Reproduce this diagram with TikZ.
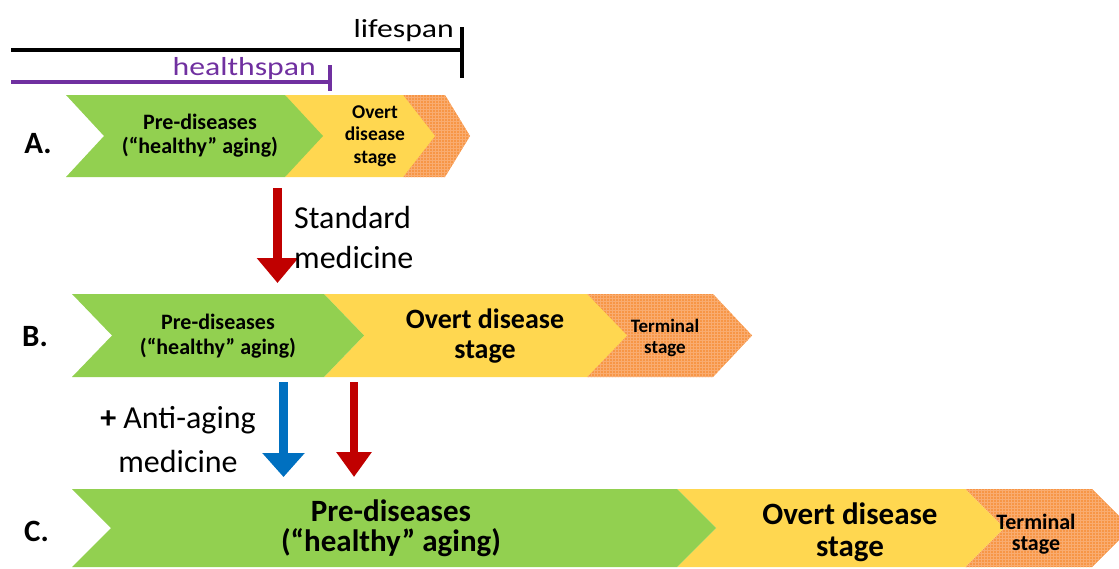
\documentclass[tikz,border=0pt]{standalone}
\usepackage{fontspec}
\setmainfont{Carlito}
\newfontfamily\widefont{Carlito}[FakeStretch=1.22]
\usetikzlibrary{arrows.meta,patterns}
\definecolor{grn}{HTML}{92D050}
\definecolor{ylw}{HTML}{FFD750}
\definecolor{orng}{HTML}{F79646}
\definecolor{orngline}{HTML}{F9AC70}
\definecolor{darkred}{HTML}{C00000}
\definecolor{blu}{HTML}{0070C0}
\definecolor{purp}{HTML}{7030A0}

\newcommand{\setfs}[2]{\fontsize{#1}{#2}\selectfont}
% style, left x, top-right x, top y, bottom y, tip depth
\newcommand{\chevron}[6]{%
  \path[#1] (#2,#4) -- (#3,#4) -- ({#3+#6},{(#4+#5)/2}) -- (#3,#5)
    -- (#2,#5) -- ({#2+#6},{(#4+#5)/2}) -- cycle;}

\tikzset{
  pre/.style={fill=grn},
  overt/.style={fill=ylw},
  terminal/.style={preaction={fill=orng}, pattern=grid, pattern color=orngline},
  stg/.style={align=center, inner sep=0pt},
  lbl/.style={inner sep=0pt, font=\setfs{31}{31}\bfseries},
  span/.style={line width=3.5pt},
  medarrow/.style={line width=9pt, -{Triangle[width=40pt,length=25pt]}},
}

\begin{document}
\begin{tikzpicture}[x=1pt,y=-1pt]
    \useasboundingbox (0,0) rectangle (1119,568);
    \clip (0,0) rectangle (1119,568);

    % lifespan / healthspan
    \draw[span] (11,50) -- (462,50);
    \draw[span] (462,27) -- (462,78);
    \node[inner sep=0pt, anchor=base east, font=\widefont\setfs{26}{26}] (lifespan) at (454,37) {lifespan};
    \draw[span, purp] (11,82) -- (330,82);
    \draw[span, purp] (330,65) -- (330,91);
    \node[inner sep=0pt, anchor=base east, text=purp, font=\widefont\setfs{26}{26}] (healthspan) at (316,75) {healthspan};

    % row A
    \chevron{terminal}{403}{445}{95}{177}{25}
    \chevron{overt}{285}{403}{95}{177}{32}
    \chevron{pre}{66}{285}{95}{177}{38}
    \node[lbl] (lblA) at (38,144) {A.};
    \node[stg, font={\setfs{22}{24}\bfseries}] (preA) at (200,136) {Pre-diseases\\(“healthy” aging)};
    \node[stg, font={\setfs{19.5}{22.5}\bfseries}] (overtA) at (375,136) {Overt\\disease\\stage};

    % standard medicine
    \coordinate (stdFrom) at (277.5,188);
    \coordinate (stdTo) at (277.5,283);
    \draw[medarrow, darkred] (stdFrom) -- (stdTo);
    \node[inner sep=0pt, anchor=west, align=left, font=\setfs{32}{40}] (stdmed) at (294,237) {Standard\\medicine};

    % row B
    \chevron{terminal}{587}{713}{294}{377}{39}
    \chevron{overt}{324}{587}{294}{377}{40}
    \chevron{pre}{72}{324}{294}{377}{40}
    \node[lbl] (lblB) at (35,337) {B.};
    \node[stg, font={\setfs{22}{25}\bfseries}] (preB) at (218,336) {Pre-diseases\\(“healthy” aging)};
    \node[stg, font={\setfs{28}{30}\bfseries}] (overtB) at (485,336) {Overt disease\\stage};
    \node[stg, font={\setfs{19}{21}\bfseries}] (termB) at (665,338) {Terminal\\stage};

    % anti-aging medicine
    \coordinate (antiFrom) at (283.5,382);
    \coordinate (antiTo) at (283.5,477);
    \draw[medarrow, blu, -{Triangle[width=41pt,length=24pt]}] (antiFrom) -- (antiTo);
    \coordinate (stdFromB) at (354,382);
    \coordinate (stdToB) at (354,477);
    \draw[medarrow, darkred, line width=8pt, -{Triangle[width=34pt,length=25pt]}] (stdFromB) -- (stdToB);
    \node[stg, font=\setfs{32}{44}] (antiage) at (178,440) {\textbf{+} Anti-aging\\medicine};

    % row C
    \chevron{terminal}{965}{1092}{489}{567}{39}
    \chevron{overt}{677}{965}{489}{567}{39}
    \chevron{pre}{72}{677}{489}{567}{39}
    \node[lbl] (lblC) at (36.5,531) {C.};
    \node[stg, font={\setfs{31}{30}\bfseries}] (preC) at (391,528) {Pre-diseases\\(“healthy” aging)};
    \node[stg, font={\setfs{31}{32}\bfseries}] (overtC) at (850,532) {Overt disease\\stage};
    \node[stg, font={\setfs{22}{21}\bfseries}] (termC) at (1036,534) {Terminal\\stage};
\end{tikzpicture}
\end{document}
